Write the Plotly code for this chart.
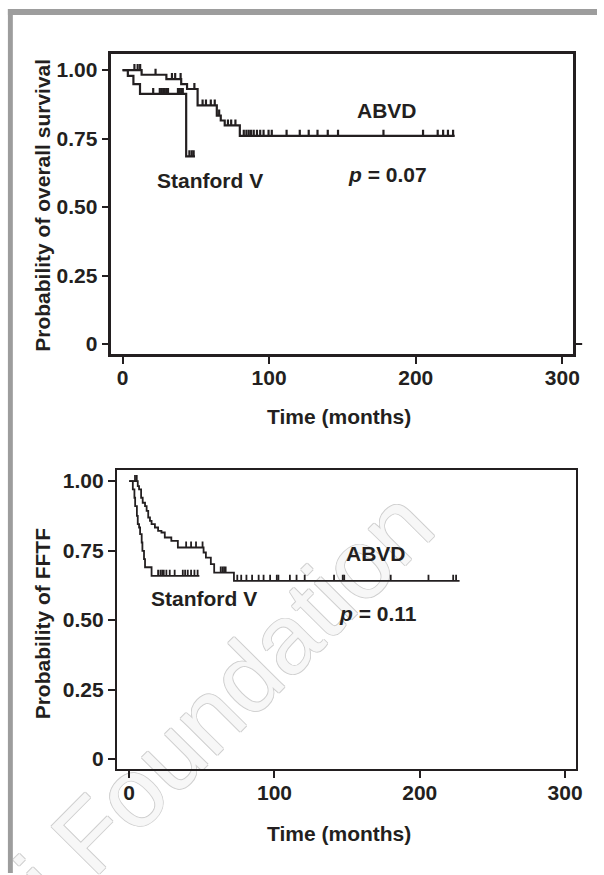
import plotly.graph_objects as go

W, H = 604, 875
INK = "#231f20"
FONT = "Liberation Sans"

# ---------------- Overall survival (top panel) ----------------
os_abvd_t = [0, 13.0, 29.9, 40.0, 44.0, 51.2, 64.3, 67.0, 69.7, 80.0, 226.6]
os_abvd_s = [1.0, 0.983, 0.967, 0.949, 0.931, 0.871, 0.834, 0.816, 0.798, 0.760, 0.760]
os_abvd_cens = [8.1, 10.3, 12.0, 22.5, 33.7, 35.9, 39.6, 49.0, 54.6, 56.9, 60.2, 62.9,
                65.9, 71.9, 74.1, 77.0, 82.7, 84.5, 86.1, 87.7, 89.5, 91.7, 93.9, 96.2,
                99.6, 101.8, 111.9, 120.9, 127.0, 133.0, 140.0, 147.0, 178.0, 205.0,
                215.0, 218.7, 222.0, 225.5]
os_sv_t = [0, 3.6, 7.4, 11.9, 43.4, 49.4]
os_sv_s = [1.0, 0.979, 0.949, 0.913, 0.685, 0.685]
os_sv_cens = [20.9, 25.4, 26.5, 27.7, 28.8, 29.9, 31.0, 37.8, 38.9, 40.0, 41.1,
              45.6, 47.2, 48.5]

# ---------------- FFTF (bottom panel) ----------------
ff_abvd_t = [0, 5.9, 6.8, 8.2, 9.3, 10.9, 12.0, 13.1, 14.3, 15.4, 17.7, 19.9, 22.2,
             24.5, 29.0, 33.5, 51.2, 52.8, 56.2, 58.5, 72.1, 227.4]
ff_abvd_s = [1.0, 0.982, 0.970, 0.940, 0.922, 0.910, 0.893, 0.869, 0.857, 0.845,
             0.833, 0.821, 0.815, 0.797, 0.785, 0.761, 0.743, 0.725, 0.701, 0.671,
             0.641, 0.641]
ff_abvd_cens = [4.0, 5.2, 39.2, 42.6, 46.0, 50.5, 63.0, 64.2, 65.3, 66.4, 74.4, 77.1,
                80.7, 84.6, 89.1, 92.5, 97.0, 101.6, 102.7, 110.6, 115.2, 120.8, 141.0,
                147.0, 148.0, 180.0, 206.0, 223.0, 225.0]
ff_sv_t = [0, 2.5, 3.6, 4.1, 5.3, 5.9, 6.8, 7.5, 8.6, 9.1, 10.2, 10.9, 15.4, 48.3]
ff_sv_s = [1.0, 0.970, 0.940, 0.910, 0.875, 0.845, 0.833, 0.809, 0.779, 0.749, 0.719,
           0.690, 0.659, 0.659]
ff_sv_cens = [19.9, 21.5, 22.7, 23.8, 25.6, 27.9, 31.3, 36.9, 38.5, 40.3, 42.6, 44.9, 47.1]

y_tickvals = [0, 0.25, 0.5, 0.75, 1.0]
y_ticktext = ["0", "0.25", "0.50", "0.75", "1.00"]
x_tickvals = [0, 100, 200, 300]
x_ticktext = ["0", "100", "200", "300"]


def step_at(ts, ss, t):
    v = ss[0]
    for tt, s in zip(ts, ss):
        if tt <= t:
            v = s
    return v


fig = go.Figure()


def add_km(ts, ss, cens, xa, ya, lw):
    fig.add_trace(go.Scatter(x=ts, y=ss, mode="lines", line=dict(color=INK, width=lw, shape="hv"),
                             xaxis=xa, yaxis=ya, showlegend=False, hoverinfo="skip"))
    cy = [step_at(ts, ss, c) for c in cens]
    fig.add_trace(go.Scatter(x=cens, y=cy, mode="markers",
                             marker=dict(size=1, color=INK, opacity=0),
                             error_y=dict(type="constant", value=0.022, symmetric=False,
                                          valueminus=0, width=0, thickness=lw, color=INK),
                             xaxis=xa, yaxis=ya, showlegend=False, hoverinfo="skip"))


add_km(os_abvd_t, os_abvd_s, os_abvd_cens, "x", "y", 2.2)
add_km(os_sv_t, os_sv_s, os_sv_cens, "x", "y", 2.2)
add_km(ff_abvd_t, ff_abvd_s, ff_abvd_cens, "x2", "y2", 1.8)
add_km(ff_sv_t, ff_sv_s, ff_sv_cens, "x2", "y2", 1.8)

tickfont = dict(family=FONT, size=21, color=INK, weight="bold")


def xaxis(domain, rng, anchor, lw):
    return dict(domain=domain, range=rng, anchor=anchor, showline=True, mirror=True,
                linecolor=INK, linewidth=lw, ticks="outside", ticklen=7, tickwidth=2,
                tickcolor=INK, tickvals=x_tickvals, ticktext=x_ticktext, tickfont=tickfont,
                ticklabelstandoff=-4,
                showgrid=False, zeroline=False, fixedrange=True)


def yaxis(domain, rng, anchor, lw):
    return dict(domain=domain, range=rng, anchor=anchor, showline=True, mirror=True,
                linecolor=INK, linewidth=lw, ticks="outside", ticklen=7, tickwidth=2,
                tickcolor=INK, tickvals=y_tickvals, ticktext=y_ticktext, tickfont=tickfont,
                showgrid=False, zeroline=False, fixedrange=True)


def px(x):
    return x / W


def py(y):
    return 1 - y / H


bold = dict(family=FONT, size=21, color=INK, weight="bold")


def note(x, y, text, xref, yref, angle=0):
    return dict(x=x, y=y, xref=xref, yref=yref, text=text, showarrow=False, font=bold,
                xanchor="center", yanchor="middle", textangle=angle)


annotations = [
    # top panel
    note(180.7, 0.852, "ABVD", "x", "y"),
    note(180.7, 0.619, "<i>p</i> = 0.07", "x", "y"),
    note(59.7, 0.597, "Stanford V", "x", "y"),
    note(px(343), py(416.7), "Time (months)", "paper", "paper"),
    note(px(43), py(205), "Probability of overall survival", "paper", "paper", -90),
    # bottom panel
    note(169.6, 0.741, "ABVD", "x2", "y2"),
    note(171.0, 0.522, "<i>p</i> = 0.11", "x2", "y2"),
    note(51.2, 0.576, "Stanford V", "x2", "y2"),
    note(px(343), py(835), "Time (months)", "paper", "paper"),
    note(px(43), py(625), "Probability of FFTF", "paper", "paper", -90),
]

wm_shadow = ("1px 0 0 #cfcfcf, -1px 0 0 #cfcfcf, 0 1px 0 #cfcfcf, 0 -1px 0 #cfcfcf")

shapes = [
    # watermark (drawn below the plots)
    dict(type="line", xref="paper", yref="paper", layer="below",
         x0=px(25 - 150), y0=py(890 + 150), x1=px(25 + 150), y1=py(890 - 150),
         line=dict(color="rgba(0,0,0,0)", width=0),
         label=dict(text="Ferrata Storti Foundation", textposition="middle", yanchor="middle",
                    font=dict(family=FONT, size=98, color="#f7f7f7", shadow=wm_shadow))),
    # grey page frame (top and left)
    dict(type="rect", xref="paper", yref="paper", x0=px(8), x1=px(W), y0=py(8), y1=py(14),
         fillcolor="#9d9d9d", line=dict(width=0), layer="above"),
    dict(type="rect", xref="paper", yref="paper", x0=px(8), x1=px(13), y0=py(8), y1=py(H),
         fillcolor="#9d9d9d", line=dict(width=0), layer="above"),
    # small stray tick on the right side at 0 (top panel)
    dict(type="line", xref="paper", yref="y", x0=px(580), x1=px(589), y0=0, y1=0,
         line=dict(color=INK, width=2)),
]

fig.update_layout(
    width=W, height=H, autosize=False,
    margin=dict(l=0, r=0, t=0, b=0),
    paper_bgcolor="white", plot_bgcolor="rgba(0,0,0,0)",
    xaxis=xaxis([px(112.7), px(580)], [-7.62, 307.5], "y", 2.5),
    yaxis=yaxis([py(354), py(52.7)], [-0.0353, 1.0604], "x", 2.5),
    xaxis2=xaxis([px(118.3), px(582.7)], [-8.44, 307.5], "y2", 2),
    yaxis2=yaxis([py(771), py(471)], [-0.0369, 1.0384], "x2", 2),
    annotations=annotations, shapes=shapes, showlegend=False,
)

fig.write_html("out.html", config={"displayModeBar": False},
               post_script="document.body.style.margin='0';")
